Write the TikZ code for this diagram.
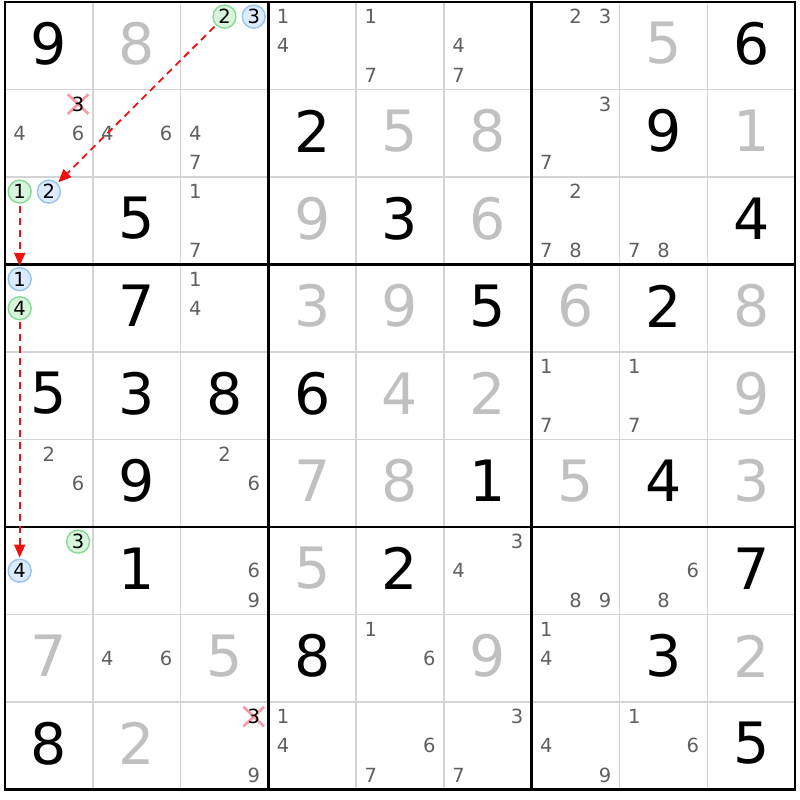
\documentclass[tikz,border=0pt]{standalone}
\usepackage{fontspec}
\setmainfont{DejaVu Sans}
\usepackage{xcolor}
\usepackage{tikz}
\usetikzlibrary{arrows.meta, shapes.misc}

\definecolor{solvedcol}{HTML}{C0C0C0}
\definecolor{candcol}{HTML}{5F5F5F}
\definecolor{thincol}{HTML}{D4D4D4}
\definecolor{onfill}{HTML}{D9F5DC}
\definecolor{ondraw}{HTML}{86D995}
\definecolor{offfill}{HTML}{DCEBFF}
\definecolor{offdraw}{HTML}{96C3F2}
\definecolor{strikecol}{HTML}{F59AA5}
\definecolor{linkcol}{HTML}{F01010}

\tikzset{
  given/.style={text=black, font=\fontsize{57}{57}\selectfont, inner sep=0pt},
  solved/.style={given, text=solvedcol},
  cand/.style={text=candcol, font=\fontsize{19.5}{19.5}\selectfont, inner sep=0pt},
  oncand/.style={cand, text=black, circle, draw=ondraw, fill=onfill, line width=1.4pt, minimum size=23pt},
  offcand/.style={oncand, draw=offdraw, fill=offfill},
  strikemark/.style={cross out, draw=strikecol, line width=2.6pt, minimum width=18pt, minimum height=17pt, inner sep=0pt},
  struck/.style={cand, text=black},
  thingrid/.style={thincol, line width=1.5pt},
  thickgrid/.style={black, line width=2.6pt},
  link/.style={linkcol, dash pattern=on 7pt off 5pt, line width=1.8pt, -{Triangle[length=13pt,width=11pt]}, shorten <=2pt, shorten >=1pt}
}

\begin{document}
\begin{tikzpicture}[x=87.8pt, y=-87.5pt]
  \useasboundingbox (-0.057,-0.023) rectangle (9.055,9.12);

  % grid
  \foreach \i in {1,2,4,5,7,8} {
    \draw[thingrid] (\i,0) -- (\i,9);
    \draw[thingrid] (0,\i) -- (9,\i);
  }
  \foreach \i in {3,6} {
    \draw[thickgrid] (\i,0) -- (\i,9);
    \draw[thickgrid] (0,\i) -- (9,\i);
  }
  \draw[thickgrid] (0,0) rectangle (9,9);

  % givens
  \foreach \r/\c/\d in {0/0/9, 0/8/6, 1/3/2, 1/7/9, 2/1/5, 2/4/3, 2/8/4,
      3/1/7, 3/5/5, 3/7/2, 4/0/5, 4/1/3, 4/2/8, 4/3/6, 5/1/9, 5/5/1, 5/7/4,
      6/1/1, 6/4/2, 6/8/7, 7/3/8, 7/7/3, 8/0/8, 8/8/5}
    \node[given] (n\r\c) at (\c+0.5,\r+0.475) {\d};

  % solved
  \foreach \r/\c/\d in {0/1/8, 0/7/5, 1/4/5, 1/5/8, 1/8/1, 2/3/9, 2/5/6,
      3/3/3, 3/4/9, 3/6/6, 3/8/8, 4/4/4, 4/5/2, 4/8/9, 5/3/7, 5/4/8, 5/6/5,
      5/8/3, 6/3/5, 7/0/7, 7/2/5, 7/5/9, 7/8/2, 8/1/2}
    \node[solved] (n\r\c) at (\c+0.5,\r+0.475) {\d};

  % candidates
  \foreach \r/\c/\ds in {0/3/{1,4}, 0/4/{1,7}, 0/5/{4,7}, 0/6/{2,3},
      1/0/{4,6}, 1/1/{4,6}, 1/2/{4,7}, 1/6/{3,7}, 2/2/{1,7}, 2/6/{2,7,8},
      2/7/{7,8}, 3/2/{1,4}, 4/6/{1,7}, 4/7/{1,7}, 5/0/{2,6}, 5/2/{2,6},
      6/2/{6,9}, 6/5/{3,4}, 6/6/{8,9}, 6/7/{6,8}, 7/1/{4,6}, 7/4/{1,6},
      7/6/{1,4}, 8/2/{9}, 8/3/{1,4}, 8/4/{6,7}, 8/5/{3,7}, 8/6/{4,9}, 8/7/{1,6}}
    \foreach \d in \ds
      \node[cand] (c\r\c-\d) at ({\c+mod(\d-1,3)/3+1/6},{\r+int((\d-1)/3)/3+1/6}) {\d};

  % eliminated
  \node[strikemark] (x10-3) at (0.833,1.167) {};
  \node[struck] (c10-3) at (x10-3) {3};
  \node[strikemark] (x82-3) at (2.833,8.167) {};
  \node[struck] (c82-3) at (x82-3) {3};

  \node[oncand]  (c02-2) at (2.5,0.167) {2};
  \node[offcand] (c02-3) at (2.833,0.167) {3};
  \node[oncand]  (c20-1) at (0.167,2.167) {1};
  \node[offcand] (c20-2) at (0.5,2.167) {2};
  \node[offcand] (c30-1) at (0.167,3.167) {1};
  \node[oncand]  (c30-4) at (0.167,3.5) {4};
  \node[oncand]  (c60-3) at (0.833,6.167) {3};
  \node[offcand] (c60-4) at (0.167,6.5) {4};

  % chain
  \draw[link] (c02-2) -- (c20-2);
  \draw[link] (c20-1) -- (c30-1);
  \draw[link] (c30-4) -- (c60-4);

\end{tikzpicture}
\end{document}
